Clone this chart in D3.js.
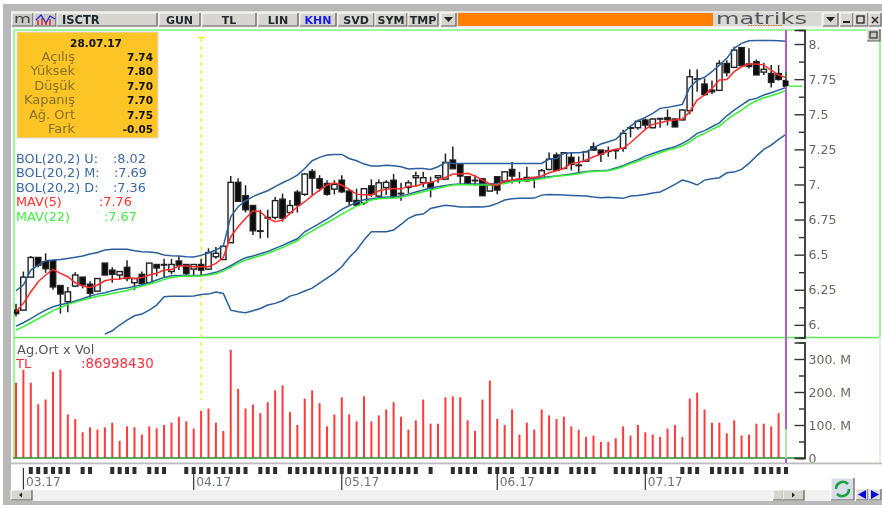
<!DOCTYPE html>
<html>
<head>
<meta charset="utf-8">
<script src="https://cdn.jsdelivr.net/npm/d3@7"></script>
<style>
  html, body { margin: 0; padding: 0; background: #fff; overflow: hidden; }
  svg { display: block; filter: blur(0.35px); }
  text { font-family: "DejaVu Sans", Verdana, sans-serif; }
  .axis text { font-size: 12.5px; fill: #6d6762; font-family: "DejaVu Sans", sans-serif; }
  .axis path, .axis line { stroke: #333; stroke-width: 1.4; }
</style>
</head>
<body>
<div id="chart"></div>
<script>
// candles
var openP = [6.105,6.105,6.34,6.48,6.45,6.457,6.28,6.165,6.276,6.34,
  6.29,6.24,6.44,6.39,6.355,6.41,6.30,6.36,6.30,6.43,
  6.43,6.38,6.455,6.43,6.397,6.43,6.397,6.485,6.465,6.585,
  7.015,6.92,6.85,6.668,6.765,6.765,6.895,6.80,6.945,6.93,
  7.093,7.04,7.007,6.967,7.03,6.953,6.886,6.87,6.99,6.917,
  6.977,7.03,6.937,6.979,7.048,7.012,7.012,7.048,7.038,7.174,
  7.145,7.055,7.03,7.04,6.953,7.055,7.024,7.107,7.036,7.05,
  7.05,7.043,7.107,7.21,7.114,7.193,7.138,7.166,7.268,7.245,
  7.24,7.245,7.257,7.405,7.404,7.459,7.404,7.47,7.475,7.466,
  7.46,7.525,7.752,7.715,7.672,7.67,7.862,7.834,7.974,7.858,
  7.874,7.80,7.79,7.79,7.74];
var highP = [6.15,6.38,6.49,6.48,6.51,6.46,6.28,6.27,6.375,6.34,
  6.31,6.33,6.44,6.41,6.38,6.46,6.33,6.38,6.44,6.43,
  6.47,6.47,6.49,6.43,6.43,6.47,6.545,6.555,6.565,7.06,
  7.045,6.995,6.85,6.82,6.82,6.91,6.935,6.89,6.96,7.08,
  7.11,7.066,7.03,7.03,7.066,6.96,6.97,6.97,7.036,7.036,
  7.03,7.074,7.012,7.03,7.09,7.09,7.055,7.065,7.22,7.27,
  7.145,7.055,7.066,7.04,7.0,7.055,7.09,7.16,7.09,7.126,
  7.05,7.11,7.228,7.228,7.23,7.226,7.2,7.233,7.3,7.245,
  7.27,7.245,7.39,7.405,7.46,7.47,7.47,7.47,7.535,7.47,
  7.535,7.82,7.82,7.755,7.74,7.885,7.885,7.98,7.98,7.97,
  7.89,7.865,7.85,7.85,7.80];
var lowP = [6.06,6.105,6.34,6.41,6.37,6.25,6.08,6.09,6.27,6.26,
  6.19,6.24,6.355,6.30,6.32,6.31,6.25,6.28,6.29,6.345,
  6.34,6.36,6.39,6.355,6.355,6.355,6.39,6.47,6.465,6.585,
  6.88,6.80,6.64,6.615,6.62,6.75,6.735,6.79,6.80,6.92,
  6.925,6.95,6.92,6.93,6.94,6.853,6.846,6.853,6.91,6.91,
  6.925,6.905,6.884,6.937,6.985,6.98,6.908,7.012,7.036,7.11,
  7.007,7.0,6.995,6.918,6.95,6.93,7.02,7.007,7.007,7.02,
  6.974,7.04,7.1,7.1,7.11,7.1,7.08,7.16,7.24,7.16,
  7.197,7.18,7.233,7.335,7.39,7.395,7.40,7.404,7.42,7.41,
  7.455,7.50,7.66,7.63,7.645,7.665,7.77,7.83,7.84,7.826,
  7.78,7.78,7.69,7.74,7.70];
var closeP = [6.08,6.34,6.48,6.425,6.40,6.27,6.22,6.235,6.355,6.285,
  6.225,6.33,6.355,6.36,6.38,6.33,6.33,6.295,6.44,6.405,
  6.43,6.43,6.425,6.365,6.43,6.39,6.515,6.51,6.56,7.015,
  6.88,6.82,6.67,6.67,6.765,6.885,6.76,6.85,6.853,7.074,
  7.045,6.974,6.93,7.0,6.948,6.88,6.853,6.97,6.93,7.012,
  7.015,6.907,6.937,7.012,7.062,7.048,6.972,7.062,7.157,7.112,
  7.06,7.003,7.03,6.92,6.996,6.96,7.09,7.06,7.036,7.026,
  7.04,7.098,7.18,7.1,7.226,7.143,7.138,7.233,7.245,7.216,
  7.235,7.24,7.364,7.40,7.45,7.423,7.466,7.47,7.463,7.41,
  7.53,7.767,7.752,7.64,7.66,7.862,7.796,7.957,7.846,7.84,
  7.78,7.82,7.727,7.748,7.70];

// volume in millions
var volume = [228,267,228,163,177,261,268,132,118,78,
  93,86,93,107,52,96,93,71,96,90,
  100,107,125,111,89,143,150,107,82,328,
  209,150,162,136,169,205,220,140,100,180,
  205,166,96,132,184,132,111,187,111,129,
  147,169,125,86,114,177,104,104,184,187,
  184,114,82,177,234,118,100,147,71,107,
  86,147,129,118,125,96,86,64,68,49,
  49,60,96,68,100,78,71,64,89,100,
  64,180,198,147,107,107,75,114,68,71,
  104,104,96,136,87];

// indicators
var bolU = [6.243,6.284,6.390,6.426,6.457,6.462,6.466,6.473,6.481,6.490,
  6.504,6.516,6.533,6.538,6.538,6.538,6.528,6.521,6.519,6.514,
  6.497,6.492,6.490,6.485,6.483,6.495,6.514,6.533,6.561,6.770,
  6.841,6.884,6.913,6.936,6.955,6.984,7.012,7.036,7.067,7.114,
  7.169,7.193,7.209,7.214,7.214,7.185,7.169,7.145,7.131,7.131,
  7.136,7.133,7.126,7.110,7.114,7.114,7.107,7.126,7.157,7.150,
  7.15,7.15,7.15,7.15,7.15,7.15,7.15,7.15,7.15,7.15,
  7.15,7.15,7.181,7.185,7.221,7.226,7.226,7.233,7.261,7.288,
  7.304,7.321,7.368,7.416,7.454,7.478,7.506,7.542,7.549,7.558,
  7.570,7.691,7.743,7.763,7.803,7.850,7.898,7.969,8.005,8.024,
  8.026,8.026,8.026,8.024,8.019];
var bolM = [5.991,6.015,6.044,6.077,6.105,6.129,6.143,6.155,6.170,6.186,
  6.205,6.219,6.229,6.243,6.255,6.262,6.274,6.286,6.300,6.319,
  6.338,6.350,6.352,6.352,6.352,6.352,6.362,6.374,6.395,6.421,
  6.452,6.478,6.490,6.507,6.523,6.545,6.566,6.590,6.613,6.663,
  6.692,6.723,6.753,6.787,6.822,6.848,6.872,6.891,6.898,6.905,
  6.910,6.912,6.917,6.931,6.946,6.960,6.974,6.984,6.993,7.000,
  7.003,7.003,7.003,7.003,7.003,7.007,7.015,7.024,7.031,7.036,
  7.041,7.050,7.055,7.060,7.067,7.074,7.083,7.093,7.095,7.098,
  7.102,7.117,7.133,7.157,7.176,7.202,7.221,7.238,7.254,7.269,
  7.292,7.323,7.364,7.383,7.411,7.439,7.489,7.530,7.565,7.601,
  7.613,7.637,7.653,7.672,7.691];
var bolD = [null,null,null,null,null,null,null,null,null,null,
  null,null,5.934,5.958,5.999,6.034,6.065,6.077,6.105,6.141,
  6.200,6.203,6.203,6.203,6.205,6.217,6.219,6.234,6.224,6.105,
  6.094,6.086,6.101,6.117,6.141,6.153,6.172,6.205,6.219,6.241,
  6.262,6.298,6.333,6.369,6.414,6.480,6.533,6.604,6.663,6.663,
  6.663,6.675,6.715,6.758,6.782,6.789,6.829,6.841,6.851,6.846,
  6.839,6.839,6.841,6.839,6.846,6.865,6.889,6.898,6.901,6.901,
  6.903,6.924,6.929,6.927,6.924,6.922,6.920,6.917,6.910,6.905,
  6.908,6.905,6.901,6.917,6.922,6.929,6.939,6.946,6.972,7.000,
  7.031,7.017,6.996,7.031,7.041,7.048,7.083,7.088,7.107,7.150,
  7.202,7.250,7.280,7.321,7.356];
var mav5 = [6.094,6.153,6.236,6.307,6.355,6.395,6.367,6.343,6.300,6.276,
  6.267,6.284,6.314,6.324,6.326,6.338,6.331,6.338,6.355,6.367,
  6.390,6.395,6.419,6.419,6.414,6.414,6.414,6.438,6.481,6.628,
  6.699,6.758,6.813,6.806,6.758,6.735,6.746,6.794,6.841,6.877,
  6.920,6.960,6.996,7.012,6.996,6.965,6.931,6.927,6.924,6.955,
  6.965,6.972,6.967,6.988,6.988,7.007,7.015,7.031,7.050,7.074,
  7.074,7.079,7.060,7.031,7.003,6.993,7.024,7.031,7.041,7.043,
  7.050,7.060,7.083,7.098,7.114,7.150,7.157,7.174,7.197,7.214,
  7.238,7.250,7.257,7.297,7.345,7.392,7.428,7.440,7.454,7.459,
  7.466,7.518,7.601,7.637,7.684,7.744,7.748,7.803,7.838,7.857,
  7.857,7.850,7.815,7.779,7.760];
var mav22 = [5.963,5.987,6.015,6.044,6.072,6.101,6.124,6.146,6.162,6.177,
  6.191,6.203,6.212,6.224,6.234,6.245,6.262,6.276,6.291,6.305,
  6.324,6.338,6.345,6.348,6.348,6.348,6.355,6.364,6.383,6.409,
  6.438,6.462,6.478,6.492,6.509,6.530,6.552,6.575,6.599,6.639,
  6.668,6.699,6.727,6.756,6.789,6.817,6.846,6.870,6.889,6.898,
  6.901,6.903,6.908,6.922,6.934,6.948,6.960,6.972,6.986,6.996,
  6.998,6.998,6.996,6.996,6.996,7.000,7.007,7.019,7.024,7.029,
  7.031,7.043,7.050,7.060,7.064,7.069,7.076,7.088,7.093,7.095,
  7.098,7.110,7.126,7.148,7.167,7.185,7.207,7.226,7.245,7.257,
  7.276,7.304,7.340,7.364,7.392,7.416,7.459,7.497,7.530,7.568,
  7.596,7.618,7.632,7.649,7.670];

// axis ticks and labels
var priceTicks = [8,7.75,7.5,7.25,7,6.75,6.5,6.25,6];
var priceLabels = ["8.","7.75","7.5","7.25","7.","6.75","6.5","6.25","6."];
var priceMinor = [7.875,7.625,7.375,7.125,6.875,6.625,6.375,6.125];
var volTicks = [0,100,200,300];
var volLabels = ["0","100. M","200. M","300. M"];
var volMinor = [50,150,250];
var monthIdx = [1,24,44,65,85];
var monthLabels = ["03.17","04.17","05.17","06.17","07.17"];
var dayMarks = [2,3,4,5,6,7,9,10,13,14,15,16,18,19,20,23,24,25,26,27,28,29,30,31,33,34,35,37,38,
  39,40,41,42,43,44,45,46,47,48,49,50,51,52,53,54,56,59,60,61,62,64,65,66,67,69,70,71,72,73,75,76,77,78,
  81,82,83,84,85,86,87,90,91,92,94,95,96,97,98,100,101,102,103,104];

// info box and legend texts
var infoLabels = ["Açılış","Yüksek","Düşük","Kapanış","Ağ. Ort","Fark"];
var infoValues = ["7.74","7.80","7.70","7.70","7.75","-0.05"];
var toolButtons = ["GUN","TL","LIN","KHN","SVD","SYM","TMP"];

var width = 882, height = 508;

var svg = d3.select("#chart")
    .append("svg")
    .attr("width", width)
    .attr("height", height);

// scales
var x = d3.scaleLinear().domain([0, 104]).range([16, 786]);
var y = d3.scaleLinear().domain([5.91, 8.1]).range([337.5, 30]);
var yVol = d3.scaleLinear().domain([0, 350]).range([458, 342.5]);

// window frame
svg.append("rect").attr("width", width).attr("height", height).attr("fill", "#fff");
svg.append("rect").attr("x", 3).attr("y", 4).attr("width", 879).attr("height", 7).attr("fill", "#b9b9b9");
svg.append("rect").attr("x", 3).attr("y", 4).attr("width", 8).attr("height", 501).attr("fill", "#b9b9b9");
svg.append("rect").attr("x", 3).attr("y", 501).attr("width", 879).attr("height", 4).attr("fill", "#b9b9b9");
svg.append("rect").attr("x", 11).attr("y", 11).attr("width", 871).attr("height", 17).attr("fill", "#e4e4e0");
svg.append("rect").attr("x", 11).attr("y", 26).attr("width", 871).attr("height", 2).attr("fill", "#efefef");

function button(bx, by, bw, bh, fill) {
  svg.append("rect").attr("x", bx).attr("y", by).attr("width", bw).attr("height", bh).attr("fill", fill || "#d6d5cf");
  svg.append("path")
    .attr("d", "M" + bx + "," + (by + bh) + "V" + by + "H" + (bx + bw))
    .attr("fill", "none").attr("stroke", "#fff").attr("stroke-width", 1);
  svg.append("path")
    .attr("d", "M" + (bx + bw) + "," + by + "V" + (by + bh) + "H" + bx)
    .attr("fill", "none").attr("stroke", "#5e5e5a").attr("stroke-width", 1.2);
}

// toolbar
button(12, 13, 21, 13, "#c8c8c4");
button(34, 13, 22, 13, "#c8c8c4");
button(57, 13, 100, 13);
svg.append("text").attr("x", 14).attr("y", 23).attr("font-size", 13).attr("fill", "#444")
    .attr("textLength", 17).attr("lengthAdjust", "spacingAndGlyphs").text("m");
svg.append("path").attr("d", "M36,20 L41,15 L46,23 L50,16 L55,19").attr("fill", "none").attr("stroke", "#2222dd").attr("stroke-width", 1.2);
svg.append("path").attr("d", "M38,25V20M42,25V18M46,25V21M50,25V19").attr("fill", "none").attr("stroke", "#e02020").attr("stroke-width", 1.4);
svg.append("text").attr("x", 62).attr("y", 24).attr("font-size", 11.5).attr("font-weight", "bold").attr("fill", "#1c2a30").text("ISCTR");

var btnX = [159, 202, 258, 300, 338, 375, 408];
var btnW = [41, 54, 40, 36, 36, 32, 30];
toolButtons.forEach(function(d, i) {
  button(btnX[i], 13, btnW[i], 13);
  svg.append("text")
    .attr("x", btnX[i] + btnW[i] / 2)
    .attr("y", 24)
    .attr("text-anchor", "middle")
    .attr("font-size", 11)
    .attr("font-weight", "bold")
    .attr("fill", d == "KHN" ? "#1a1aee" : "#22282c")
    .text(d);
});
button(441, 13, 15, 13);
svg.append("path").attr("d", "M444,17h9l-4.5,5z").attr("fill", "#222");
svg.append("rect").attr("x", 458).attr("y", 13).attr("width", 255).attr("height", 13).attr("fill", "#ff8000");
svg.append("rect").attr("x", 713).attr("y", 13).attr("width", 108).attr("height", 13).attr("fill", "#d8d8d4");
svg.append("text").attr("x", 716).attr("y", 24).attr("font-size", 16)
    .attr("font-family", "Liberation Sans").attr("fill", "#55555a")
    .attr("textLength", 91).attr("lengthAdjust", "spacingAndGlyphs").text("matriks");
svg.append("path").attr("d", "M748,25.5H782").attr("stroke", "#d07030").attr("stroke-width", 1).attr("stroke-dasharray", "1.5,1");
button(823, 13, 15, 13);
svg.append("path").attr("d", "M826,17h9l-4.5,5z").attr("fill", "#222");
button(840, 13, 13, 13);
svg.append("rect").attr("x", 843).attr("y", 21).attr("width", 7).attr("height", 2).attr("fill", "#222");
button(854, 13, 14, 13);
svg.append("rect").attr("x", 857).attr("y", 16).attr("width", 7).attr("height", 7).attr("fill", "none").attr("stroke", "#222").attr("stroke-width", 1.3);
button(869, 13, 12, 13);
svg.append("path").attr("d", "M872,17L878,23M878,17L872,23").attr("stroke", "#222").attr("stroke-width", 1.4);

// green frame of the panels
var frame = svg.append("g").attr("stroke", "#80f880").attr("stroke-width", 1.6).attr("fill", "none");
frame.append("path").attr("d", "M14,30H880V337");
frame.append("path").attr("d", "M14,30V458");
frame.append("path").attr("d", "M14,337.5H880").attr("stroke", "#60e860");
frame.append("path").attr("d", "M880,337V462").attr("stroke", "#d8f0d8");

button(867, 29, 13, 12, "#c8c8c4");
svg.append("rect").attr("x", 870).attr("y", 32).attr("width", 7).attr("height", 6).attr("fill", "none").attr("stroke", "#333").attr("stroke-width", 1.2);

// marker line of the crosshair
svg.append("line").attr("x1", x(25)).attr("x2", x(25)).attr("y1", 38).attr("y2", 400)
    .attr("stroke", "#f5ea20").attr("stroke-width", 1.3).attr("stroke-dasharray", "4,4");
svg.append("path").attr("d", "M" + (x(25) - 3.5) + ",37.5H" + (x(25) + 3.5)).attr("stroke", "#f5ea20").attr("stroke-width", 1.3);

// price panel
svg.append("clipPath").attr("id", "priceClip").append("rect")
    .attr("x", 14).attr("y", 30).attr("width", 772).attr("height", 307);

var candles = d3.range(openP.length).map(function(i) {
  return {i: i, o: openP[i], h: highP[i], l: lowP[i], c: closeP[i]};
});

var gCandles = svg.append("g").attr("clip-path", "url(#priceClip)");

gCandles.selectAll(".wick")
    .data(candles)
  .enter().append("line")
    .attr("class", "wick")
    .attr("x1", function(d) { return x(d.i); })
    .attr("x2", function(d) { return x(d.i); })
    .attr("y1", function(d) { return y(d.h); })
    .attr("y2", function(d) { return y(d.l); })
    .attr("stroke", "#222")
    .attr("stroke-width", 1.5);

gCandles.selectAll(".body")
    .data(candles)
  .enter().append("rect")
    .attr("class", "body")
    .attr("x", function(d) { return x(d.i) - 2.7; })
    .attr("width", 5.4)
    .attr("y", function(d) { return y(Math.max(d.o, d.c)); })
    .attr("height", function(d) { return Math.max(0.6, Math.abs(y(d.o) - y(d.c))); })
    .attr("fill", function(d) { return d.c < d.o ? "#0c0c0c" : "#fff"; })
    .attr("stroke", "#222")
    .attr("stroke-width", 1.4);

// indicator lines
var line = d3.line()
    .defined(function(d) { return d != null; })
    .x(function(d, i) { return x(i); })
    .y(function(d) { return y(d); });

[[bolU, "#2a5f9e"], [bolM, "#2a5f9e"], [bolD, "#2a5f9e"], [mav22, "#33f033"], [mav5, "#ff2a2a"]].forEach(function(s) {
  gCandles.append("path")
      .datum(s[0])
      .attr("d", line)
      .attr("fill", "none")
      .attr("stroke", s[1])
      .attr("stroke-width", 1.5);
});

// volume panel
svg.selectAll(".vol")
    .data(volume)
  .enter().append("line")
    .attr("class", "vol")
    .attr("x1", function(d, i) { return x(i); })
    .attr("x2", function(d, i) { return x(i); })
    .attr("y1", function(d) { return yVol(d); })
    .attr("y2", yVol(0))
    .attr("stroke", "#ff3a3a")
    .attr("stroke-width", 2);

svg.append("path").attr("d", "M13,458H804").attr("stroke", "#2e8b2e").attr("stroke-width", 1.6);

// purple cursor line at the last bar
svg.append("line").attr("x1", x(104)).attr("x2", x(104)).attr("y1", 30).attr("y2", 463)
    .attr("stroke", "#b060c0").attr("stroke-width", 2);
svg.append("line").attr("x1", x(104)).attr("x2", x(104)).attr("y1", y(7.80)).attr("y2", y(7.75))
    .attr("stroke", "#a8f0a0").attr("stroke-width", 2);
svg.append("line").attr("x1", x(104)).attr("x2", x(104)).attr("y1", yVol(volume[104])).attr("y2", yVol(0))
    .attr("stroke", "#a8f0a0").attr("stroke-width", 2);
// last candle sits over the cursor line
svg.append("line").attr("x1", x(104)).attr("x2", x(104)).attr("y1", y(highP[104])).attr("y2", y(lowP[104])).attr("stroke", "#222").attr("stroke-width", 1.3);
svg.append("rect").attr("x", x(104) - 2.6).attr("width", 5.2).attr("y", y(openP[104])).attr("height", y(closeP[104]) - y(openP[104])).attr("fill", "#0c0c0c");
svg.append("line").attr("x1", x(104) + 3).attr("x2", 802).attr("y1", y(closeP[104])).attr("y2", y(closeP[104])).attr("stroke", "#33f033").attr("stroke-width", 1.3);

// axes
svg.append("g").attr("class", "axis")
    .attr("transform", "translate(804.5,0)")
    .call(d3.axisRight(y).tickValues(priceMinor).tickSize(-5.5).tickFormat(""));
svg.append("g").attr("class", "axis")
    .attr("transform", "translate(804.5,0)")
    .call(d3.axisRight(y).tickValues(priceTicks).tickSize(-10).tickPadding(4)
      .tickFormat(function(d, i) { return priceLabels[i]; }));
svg.append("g").attr("class", "axis")
    .attr("transform", "translate(804.5,0)")
    .call(d3.axisRight(yVol).tickValues(volMinor).tickSize(-5.5).tickFormat(""));
svg.append("g").attr("class", "axis")
    .attr("transform", "translate(804.5,0)")
    .call(d3.axisRight(yVol).tickValues(volTicks).tickSize(-10).tickPadding(4)
      .tickFormat(function(d, i) { return volLabels[i]; }));

// yellow info box
svg.append("rect").attr("x", 17).attr("y", 32).attr("width", 141).attr("height", 106)
    .attr("fill", "#fcc425").attr("stroke", "#dcdcdc").attr("stroke-width", 1);
svg.append("text").attr("x", 96).attr("y", 46.5).attr("text-anchor", "middle")
    .attr("font-size", 10.5).attr("font-weight", "bold").attr("fill", "#111").text("28.07.17");

var rowY = d3.scalePoint().domain(d3.range(6)).range([61, 133]);
infoLabels.forEach(function(d, i) {
  svg.append("text").attr("x", 75).attr("y", rowY(i)).attr("text-anchor", "end")
      .attr("font-size", 13).attr("fill", "#86702c").text(d);
  svg.append("text").attr("x", 153).attr("y", rowY(i)).attr("text-anchor", "end")
      .attr("font-size", 10.5).attr("font-weight", "bold").attr("fill", "#111").text(infoValues[i]);
});

// legend
var legendRows = [
  ["BOL(20,2) U:", ":8.02", 113, "#3a68a8", 163],
  ["BOL(20,2) M:", ":7.69", 114, "#3a68a8", 177],
  ["BOL(20,2) D:", ":7.36", 113, "#3a68a8", 191.5],
  ["MAV(5)", ":7.76", 99, "#ff3030", 206],
  ["MAV(22)", ":7.67", 104, "#44f044", 221]
];
legendRows.forEach(function(r) {
  svg.append("text").attr("x", 16).attr("y", r[4]).attr("font-size", 12.8).attr("fill", r[3]).text(r[0]);
  svg.append("text").attr("x", r[2]).attr("y", r[4]).attr("font-size", 12.8).attr("fill", r[3]).text(r[1]);
});

svg.append("text").attr("x", 17).attr("y", 354).attr("font-size", 13).attr("fill", "#555").text("Ag.Ort x Vol");
svg.append("text").attr("x", 16).attr("y", 367.5).attr("font-size", 13).attr("fill", "#ff3040").text("TL");
svg.append("text").attr("x", 81).attr("y", 367.5).attr("font-size", 13.4).attr("fill", "#ff3040").text(":86998430");

// time axis strip
svg.append("rect").attr("x", 11).attr("y", 462.5).attr("width", 871).attr("height", 1.8).attr("fill", "#bdbdbd");
svg.append("line").attr("x1", x(104)).attr("x2", x(104)).attr("y1", 458).attr("y2", 463).attr("stroke", "#b060c0").attr("stroke-width", 2);

svg.selectAll(".day")
    .data(dayMarks)
  .enter().append("rect")
    .attr("class", "day")
    .attr("x", function(d) { return x(d) - 2; })
    .attr("y", 467)
    .attr("width", 4)
    .attr("height", 7)
    .attr("fill", "#2c2c2c");

monthIdx.forEach(function(d, i) {
  svg.append("line").attr("x1", x(d)).attr("x2", x(d)).attr("y1", 468).attr("y2", 490)
      .attr("stroke", "#333").attr("stroke-width", 1.2);
  svg.append("text").attr("x", x(d) + 2.5).attr("y", 486).attr("font-size", 12.2)
      .attr("fill", "#6d7378").text(monthLabels[i]);
});

// scroll bar
svg.append("rect").attr("x", 11).attr("y", 490).attr("width", 821).attr("height", 11).attr("fill", "#f1f1f1");
button(11, 490, 21, 10);
svg.append("path").attr("d", "M19,495l3,-2.5v5z").attr("fill", "#222");
button(773, 490, 10, 10);
button(783, 490, 21, 10);
svg.append("path").attr("d", "M795,495l-3,-2.5v5z").attr("fill", "#222");

// refresh and arrows
button(831, 478, 23, 22, "#d8dee8");
svg.append("path").attr("d", "M836,489a7,7 0 0 1 12,-5").attr("fill", "none").attr("stroke", "#20a040").attr("stroke-width", 2.6);
svg.append("path").attr("d", "M849,489a7,7 0 0 1 -12,5").attr("fill", "none").attr("stroke", "#20a040").attr("stroke-width", 2.6);
button(856, 489, 12, 11, "#dcdcdc");
svg.append("path").attr("d", "M858,494.5l8,-4.5v9z").attr("fill", "#0808d8");
button(869, 489, 12, 11, "#dcdcdc");
svg.append("path").attr("d", "M879,494.5l-8,-4.5v9z").attr("fill", "#0808d8");
</script>
</body>
</html>
